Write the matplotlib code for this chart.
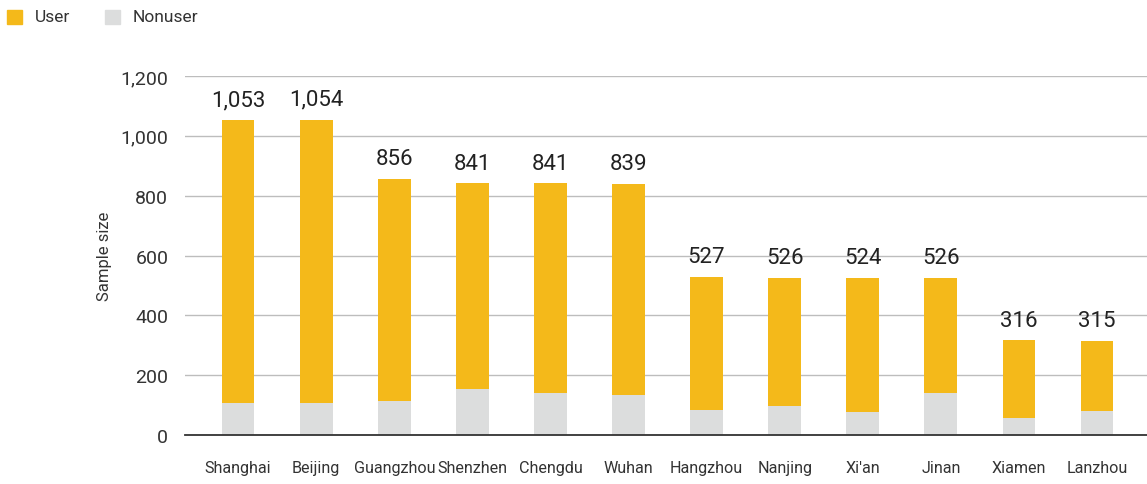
import numpy as np
import matplotlib
matplotlib.use("Agg")
import matplotlib.pyplot as plt
from matplotlib.patches import Rectangle

# no condensed face installed, Roboto is the closest match
plt.rcParams['font.family'] = ['Roboto', 'DejaVu Sans']

cities = ["Shanghai", "Beijing", "Guangzhou", "Shenzhen", "Chengdu", "Wuhan",
          "Hangzhou", "Nanjing", "Xi'an", "Jinan", "Xiamen", "Lanzhou"]
totals = [1053, 1054, 856, 841, 841, 839, 527, 526, 524, 526, 316, 315]
nonuser = [107, 107, 114, 154, 140, 134, 84, 97, 77, 140, 57, 80]
user = [t - n for t, n in zip(totals, nonuser)]

YELLOW = "#F4B91A"
GRAY = "#DCDDDD"
TEXT = "#333333"

fig = plt.figure(figsize=(11.47, 4.85), dpi=100)
ax = fig.add_axes([185 / 1147, 49 / 485, (1147 - 185) / 1147, (436 - 77) / 485])

x = np.arange(len(cities))
ax.bar(x, nonuser, width=0.42, color=GRAY, zorder=2)
ax.bar(x, user, width=0.42, bottom=nonuser, color=YELLOW, zorder=2)

for xi, t in zip(x, totals):
    ax.text(xi, t + 33, f"{t:,}", ha="center", va="bottom", fontsize=16, color="#222222")

ax.set_xlim(-0.68, 11.64)
ax.set_ylim(0, 1200)
ax.set_yticks(range(0, 1201, 200))
ax.set_yticklabels([f"{v:,}" for v in range(0, 1201, 200)], fontsize=14, color=TEXT)
ax.set_xticks(x)
ax.set_xticklabels(cities, fontsize=11.6, color=TEXT)
ax.tick_params(axis="both", length=0)
ax.tick_params(axis="x", pad=18)
ax.tick_params(axis="y", pad=12)
ax.yaxis.grid(True, color="#BDBDBD", linewidth=1)
ax.set_axisbelow(True)
for s in ["top", "right", "left"]:
    ax.spines[s].set_visible(False)
ax.spines["bottom"].set_color("#333333")
ax.spines["bottom"].set_linewidth(1.3)
ax.spines["bottom"].set_zorder(3)
ax.set_ylabel("Sample size", fontsize=12, color=TEXT, labelpad=6)

# legend at top-left
for px, label, col in [(7, "User", YELLOW), (105, "Nonuser", GRAY)]:
    fig.patches.append(Rectangle((px / 1147, 1 - 25 / 485), 15 / 1147, 14 / 485,
                                 transform=fig.transFigure, color=col, figure=fig))
    fig.text((px + 28) / 1147, 1 - 18 / 485, label, fontsize=12.5, color=TEXT, va="center")

fig.savefig("out.png", dpi=100)
